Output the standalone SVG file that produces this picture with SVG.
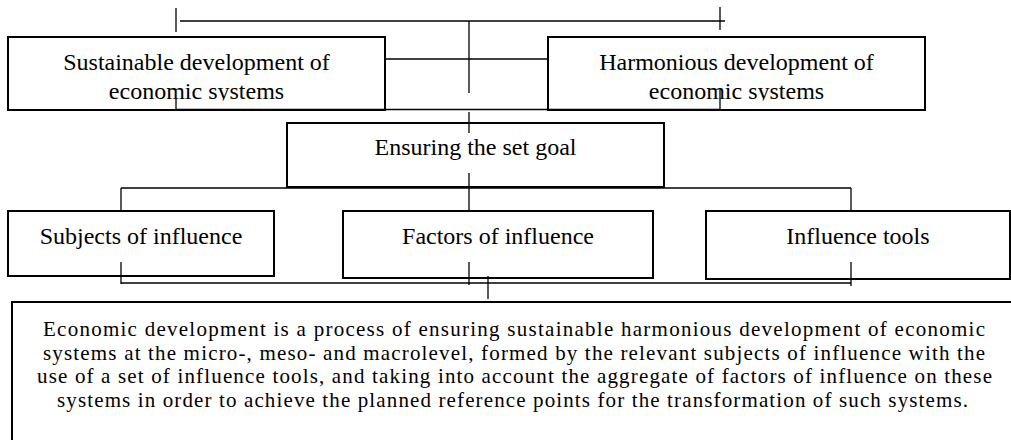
<svg xmlns="http://www.w3.org/2000/svg" width="1011" height="440" viewBox="0 0 1011 440">
  <defs>
    <style>
      .box { fill: #fff; stroke: #000; stroke-width: 2; }
      .ln { stroke: #000; stroke-width: 1.3; fill: none; }
      .t { font-family: "Liberation Serif", "Times New Roman", serif; font-size: 24px; fill: #000; text-anchor: middle; }
      .tb { font-family: "Liberation Serif", "Times New Roman", serif; font-size: 21px; fill: #000; text-anchor: middle; }
    </style>
    <clipPath id="clipTop">
      <rect x="0" y="0" width="1011" height="100.5"/>
    </clipPath>
  </defs>
  <rect width="1011" height="440" fill="#fff"/>

  <g id="n-sustainable">
    <rect class="box" x="8" y="37" width="377" height="73"/>
    <g clip-path="url(#clipTop)">
      <text class="t" x="196.5" y="70">Sustainable development of</text>
      <text class="t" x="196.5" y="99">economic systems</text>
    </g>
  </g>

  <g id="n-harmonious">
    <rect class="box" x="548" y="37" width="377" height="73"/>
    <g clip-path="url(#clipTop)">
      <text class="t" x="736.5" y="70">Harmonious development of</text>
      <text class="t" x="736.5" y="99">economic systems</text>
    </g>
  </g>

  <g id="n-goal">
    <rect class="box" x="287" y="123" width="377" height="64"/>
    <text class="t" x="475.5" y="155">Ensuring the set goal</text>
  </g>

  <g id="n-subjects">
    <rect class="box" x="8" y="211" width="266" height="65"/>
    <text class="t" x="141" y="244">Subjects of influence</text>
  </g>

  <g id="n-factors">
    <rect class="box" x="343" y="211" width="310" height="67"/>
    <text class="t" x="498" y="244">Factors of influence</text>
  </g>

  <g id="n-tools">
    <rect class="box" x="706" y="211" width="304" height="68"/>
    <text class="t" x="858" y="244">Influence tools</text>
  </g>

  <g id="n-definition">
    <rect class="box" x="12" y="302" width="1010" height="150"/>
    <text class="tb" x="514" y="336" textLength="942" lengthAdjust="spacing">Economic development is a process of ensuring sustainable harmonious development of economic</text>
    <text class="tb" x="514" y="359.5" textLength="942" lengthAdjust="spacing">systems at the micro-, meso- and macrolevel, formed by the relevant subjects of influence with the</text>
    <text class="tb" x="514.5" y="383" textLength="955" lengthAdjust="spacing">use of a set of influence tools, and taking into account the aggregate of factors of influence on these</text>
    <text class="tb" x="512.5" y="406.5" textLength="911" lengthAdjust="spacing">systems in order to achieve the planned reference points for the transformation of such systems.</text>
  </g>

  <g id="connectors">
    <line class="ln" x1="176" y1="8" x2="176" y2="32"/>
    <line class="ln" x1="180" y1="21" x2="725" y2="21"/>
    <line class="ln" x1="720" y1="7" x2="720" y2="30"/>
    <line class="ln" x1="469" y1="21" x2="469" y2="93"/>
    <line class="ln" x1="385" y1="59" x2="548" y2="59"/>
    <line class="ln" x1="176" y1="109.5" x2="720" y2="109.5"/>
    <line class="ln" x1="176" y1="98" x2="176" y2="111"/>
    <line class="ln" x1="720" y1="90" x2="720" y2="110"/>
    <line class="ln" x1="469" y1="112" x2="469" y2="133"/>
    <line class="ln" x1="469" y1="173" x2="469" y2="211"/>
    <line class="ln" x1="121" y1="188" x2="851" y2="188"/>
    <line class="ln" x1="121" y1="188" x2="121" y2="211"/>
    <line class="ln" x1="851" y1="188" x2="851" y2="211"/>
    <line class="ln" x1="121" y1="283" x2="851" y2="283"/>
    <line class="ln" x1="121" y1="262" x2="121" y2="284"/>
    <line class="ln" x1="469" y1="262" x2="469" y2="285"/>
    <line class="ln" x1="851" y1="262" x2="851" y2="286"/>
    <line class="ln" x1="488" y1="276" x2="488" y2="299"/>
  </g>
</svg>
